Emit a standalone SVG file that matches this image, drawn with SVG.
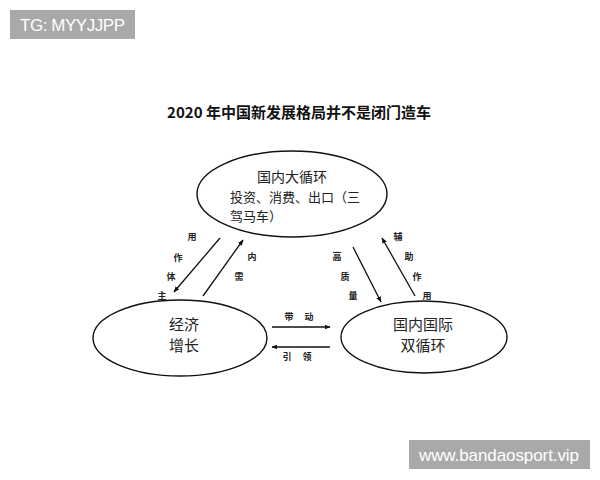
<svg xmlns="http://www.w3.org/2000/svg" width="600" height="480" viewBox="0 0 600 480">
<defs>
<style>
.bg{fill:#ffffff}
.badge{fill:#a9a9a9}
.badge-t{fill:#ffffff;font-family:"Liberation Sans","Noto Sans",sans-serif;font-size:17px}
.title{font-family:"Noto Sans CJK SC","Noto Sans",sans-serif;font-size:15px;font-weight:bold;fill:#111;text-anchor:middle}
.node{fill:#ffffff;stroke:#111;stroke-width:1.4}
.nt{font-family:"Noto Sans CJK SC",sans-serif;fill:#222}
.lbl{font-family:"Noto Sans CJK SC",sans-serif;font-size:9px;font-weight:bold;fill:#222;text-anchor:middle}
.conn{stroke:#111;stroke-width:1.3;fill:none;marker-end:url(#ah)}
</style>
<marker id="ah" viewBox="0 0 10 10" refX="9" refY="5" markerWidth="6" markerHeight="6" markerUnits="userSpaceOnUse" orient="auto">
<path d="M0,1 L10,5 L0,9 Z" fill="#111"/>
</marker>
</defs>
<rect class="bg" x="0" y="0" width="600" height="480"/>

<g id="badge-tg">
<rect class="badge" x="10" y="10" width="125" height="29"/>
<text class="badge-t" x="20" y="31" textLength="105">TG: MYYJJPP</text>
</g>
<g id="badge-url">
<rect class="badge" x="409" y="440" width="181" height="29"/>
<text class="badge-t" x="419" y="461" textLength="160">www.bandaosport.vip</text>
</g>

<text id="title" class="title" x="299" y="118">2020 年中国新发展格局并不是闭门造车</text>

<g id="node-domestic">
<ellipse class="node" cx="292" cy="194" rx="95" ry="43"/>
<text class="nt" x="292" y="182" font-size="14" text-anchor="middle">国内大循环</text>
<text class="nt" x="230" y="202" font-size="13">投资、消费、出口（三</text>
<text class="nt" x="230" y="221" font-size="13">驾马车）</text>
</g>

<g id="node-growth">
<ellipse class="node" cx="180" cy="338" rx="87" ry="38"/>
<text class="nt" x="184" y="330" font-size="15" text-anchor="middle">经济</text>
<text class="nt" x="184" y="351" font-size="15" text-anchor="middle">增长</text>
</g>

<g id="node-dual">
<ellipse class="node" cx="424" cy="337" rx="83" ry="36"/>
<text class="nt" x="423" y="330" font-size="15" text-anchor="middle">国内国际</text>
<text class="nt" x="423" y="351" font-size="15" text-anchor="middle">双循环</text>
</g>

<g id="connectors">
<line class="conn" x1="220" y1="238" x2="174" y2="292"/>
<line class="conn" x1="203" y1="296" x2="243" y2="240"/>
<line class="conn" x1="353" y1="247" x2="381" y2="302"/>
<line class="conn" x1="415" y1="296" x2="382" y2="238"/>
<line class="conn" x1="272" y1="327" x2="330" y2="327"/>
<line class="conn" x1="330" y1="347" x2="272" y2="347"/>
</g>

<g id="labels">
<text class="lbl" x="192" y="240">用</text>
<text class="lbl" x="178" y="261">作</text>
<text class="lbl" x="171" y="280">体</text>
<text class="lbl" x="162" y="299">主</text>
<text class="lbl" x="252" y="260">内</text>
<text class="lbl" x="239" y="280">需</text>
<text class="lbl" x="337" y="260">高</text>
<text class="lbl" x="345" y="280">质</text>
<text class="lbl" x="353" y="299">量</text>
<text class="lbl" x="398" y="240">辅</text>
<text class="lbl" x="409" y="260">助</text>
<text class="lbl" x="417" y="280">作</text>
<text class="lbl" x="427" y="299">用</text>
<text class="lbl" x="289" y="320">带</text>
<text class="lbl" x="309" y="320">动</text>
<text class="lbl" x="287" y="360">引</text>
<text class="lbl" x="307" y="360">领</text>
</g>
</svg>
